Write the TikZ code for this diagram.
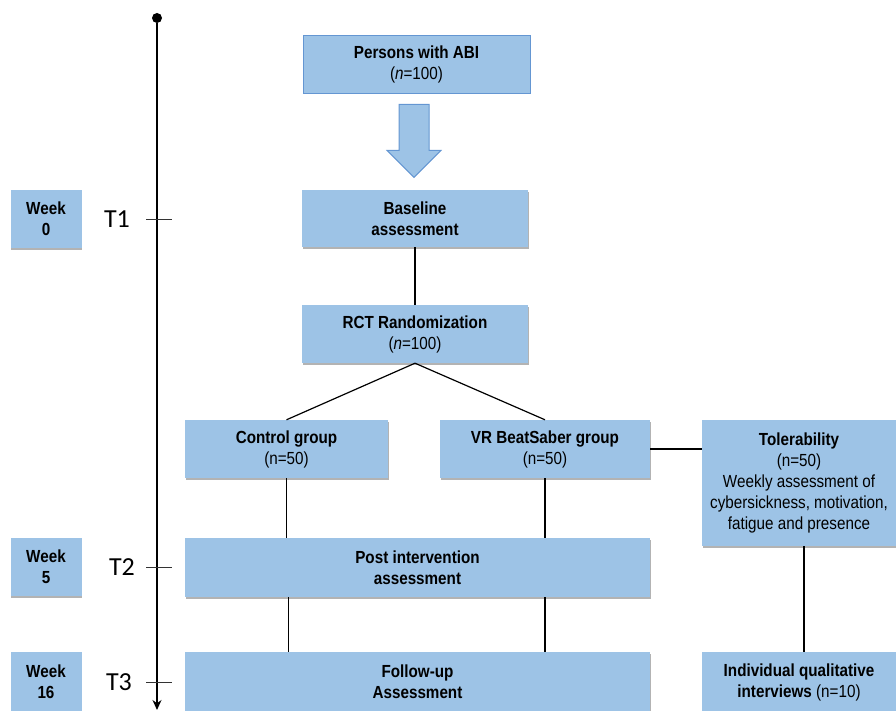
\documentclass[tikz,border=0pt]{standalone}
\usepackage{fontspec}
\setmainfont{Liberation Sans}[FakeStretch=0.87]
\newfontfamily\calib{Carlito}
\usetikzlibrary{shadows,calc,arrows.meta}
\definecolor{boxblue}{RGB}{157,195,230}
\definecolor{edgeblue}{RGB}{100,150,210}
\begin{document}
\begin{tikzpicture}[x=1pt,y=-1pt,
  txt/.style={font=\fontsize{17.5}{21}\selectfont, align=center},
  box/.style={txt, fill=boxblue, draw=none, inner sep=2pt,
    drop shadow={shadow xshift=0.6pt, shadow yshift=-2pt, opacity=0.4, fill=black!75}},
  flatbox/.style={txt, fill=boxblue, draw=edgeblue, line width=0.8pt, inner sep=2pt},
  conn/.style={line width=1.2pt, black},
  tick/.style={line width=0.8pt, black!80},
  tlabel/.style={font=\calib\fontsize{26}{26}\selectfont, inner sep=0pt}
]
\useasboundingbox (0,0) rectangle (896,711);

% timeline
\node[circle, fill=black, inner sep=0pt, minimum size=10pt] (top) at (157,18) {};
\coordinate (bot) at (157,710);
\draw[line width=1.3pt, -{Stealth[length=10pt,width=9pt]}] (top) -- (bot);
\coordinate (k1) at (157,219);
\coordinate (k2) at (157,567);
\coordinate (k3) at (157,682);
\foreach \k in {k1,k2,k3} \draw[tick] ($(\k)+(-11,0)$) -- ($(\k)+(15,0)$);
\node[tlabel] (T1) at (117,219) {T1};
\node[tlabel] (T2) at (122,567) {T2};
\node[tlabel] (T3) at (119,682) {T3};

% week boxes
\node[box, minimum width=71pt, minimum height=58pt] (w0) at (46,219) {\textbf{Week}\\\textbf{0}};
\node[box, minimum width=71pt, minimum height=58pt] (w5) at (46,567) {\textbf{Week}\\\textbf{5}};
\node[box, minimum width=71pt, minimum height=60pt] (w16) at (46,682) {\textbf{Week}\\\textbf{16}};

% flow boxes
\node[flatbox, minimum width=227pt, minimum height=58pt] (persons) at (416.5,64) {\textbf{Persons with ABI}\\(\textit{n}=100)};
\node[box, minimum width=226pt, minimum height=57pt] (base) at (415,218.5) {\textbf{Baseline}\\\textbf{assessment}};
\node[box, minimum width=226pt, minimum height=58pt] (rct) at (415,334) {\textbf{RCT Randomization}\\(\textit{n}=100)};
\node[box, minimum width=203pt, minimum height=58pt] (ctrl) at (286.5,449) {\textbf{Control group}\\(n=50)};
\node[box, minimum width=210pt, minimum height=58pt] (vr) at (545,449) {\textbf{VR BeatSaber group}\\(n=50)};
\node[box, minimum width=194pt, minimum height=126pt] (tol) at (799,483) {\textbf{Tolerability}\\(n=50)\\Weekly assessment of\\cybersickness, motivation,\\fatigue and presence};
\node[box, minimum width=465pt, minimum height=59pt] (post) at (417.5,567.5) {\textbf{Post intervention}\\\textbf{assessment}};
\node[box, minimum width=465pt, minimum height=60pt] (follow) at (417.5,682) {\textbf{Follow-up}\\\textbf{Assessment}};
\node[box, minimum width=194pt, minimum height=60pt] (ind) at (799,682) {\textbf{Individual qualitative}\\\textbf{interviews} (n=10)};

% block arrow
\coordinate (ax) at ($(persons.south)+(-2.5,0)$);
\draw[fill=boxblue, draw=edgeblue, line width=1pt, line join=miter]
  ($(ax)+(-15,11)$) -- ($(ax)+(15,11)$) -- ($(ax)+(15,57)$) -- ($(ax)+(27,57)$)
  -- ($(ax)+(0,84)$) -- ($(ax)+(-27,57)$) -- ($(ax)+(-15,57)$) -- cycle;

% connectors
\draw[conn] (base.south) -- (rct.north);
\draw[conn] (rct.south) -- (ctrl.north);
\draw[conn] (rct.south) -- (vr.north);
\draw[conn] (ctrl.south) -- (ctrl.south |- post.north);
\draw[conn] (vr.south) -- (vr.south |- post.north);
\draw[conn] ($(post.south -| ctrl.south)+(2,0)$) -- ($(follow.north -| ctrl.south)+(2,0)$);
\draw[conn] (post.south -| vr.south) -- (follow.north -| vr.south);
\draw[conn] (vr.east) -- (vr.east -| tol.west);
\draw[conn] ($(tol.south)+(5,0)$) -- ($(ind.north)+(5,0)$);
\end{tikzpicture}
\end{document}
